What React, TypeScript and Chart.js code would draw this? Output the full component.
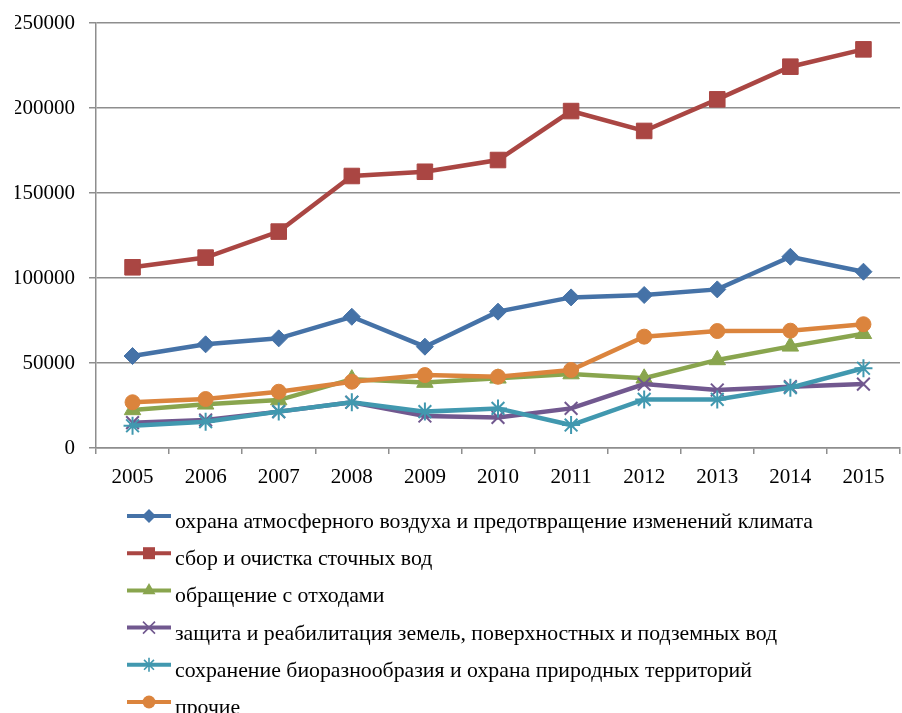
import React, { useEffect, useRef } from 'react';
import { Chart, registerables } from 'chart.js';

Chart.register(...registerables);

const years = ['2005', '2006', '2007', '2008', '2009', '2010', '2011', '2012', '2013', '2014', '2015'];

const seriesNames = [
  'охрана атмосферного воздуха и предотвращение изменений климата',
  'сбор и очистка сточных вод',
  'обращение с отходами',
  'защита и реабилитация земель, поверхностных и подземных вод',
  'сохранение биоразнообразия и охрана природных территорий',
  'прочие',
];

const airValues = [54100, 61000, 64500, 77200, 59600, 80200, 88600, 90000, 93300, 112500, 103700];
const waterValues = [106300, 112000, 127300, 160000, 162500, 169400, 198200, 186500, 205100, 224300, 234500];
const wasteValues = [22400, 25700, 28200, 40500, 38500, 41000, 43500, 41000, 51800, 59800, 67200];
const landValues = [14900, 16500, 21400, 26900, 18800, 18000, 23300, 37600, 34100, 36100, 37600];
const bioValues = [13100, 15500, 21400, 26900, 21400, 23300, 13500, 28600, 28600, 35500, 46900];
const otherValues = [26900, 28800, 33100, 39000, 42900, 41900, 45900, 65500, 68800, 69000, 72800];

const yTicks = [0, 50000, 100000, 150000, 200000, 250000];

const allValues = [airValues, waterValues, wasteValues, landValues, bioValues, otherValues];
const colors = ['#4572A7', '#AA4643', '#89A54E', '#71588F', '#4198AF', '#DB843D'];
const pointStyles = ['rectRot', 'rect', 'triangle', 'crossRot', 'star', 'circle'];
const pointRadii = [8.5, 11, 9.5, 9, 9, 7.5];
const pointBorders = [1, 1, 1, 2, 2, 1];

const FONT = '"Liberation Serif", "Times New Roman", serif';

function drawMarker(ctx: CanvasRenderingContext2D, style: string, x: number, y: number, color: string) {
  ctx.fillStyle = color;
  ctx.strokeStyle = color;
  ctx.beginPath();
  if (style === 'rectRot') {
    const r = 7;
    ctx.moveTo(x, y - r);
    ctx.lineTo(x + r, y);
    ctx.lineTo(x, y + r);
    ctx.lineTo(x - r, y);
    ctx.closePath();
    ctx.fill();
  } else if (style === 'rect') {
    const s = 6;
    ctx.rect(x - s, y - s, 2 * s, 2 * s);
    ctx.fill();
  } else if (style === 'triangle') {
    const r = 7.5;
    ctx.moveTo(x, y - r);
    ctx.lineTo(x + r * 0.866, y + r * 0.5);
    ctx.lineTo(x - r * 0.866, y + r * 0.5);
    ctx.closePath();
    ctx.fill();
  } else if (style === 'crossRot') {
    const r = 6;
    ctx.lineWidth = 1.6;
    ctx.moveTo(x - r, y - r);
    ctx.lineTo(x + r, y + r);
    ctx.moveTo(x + r, y - r);
    ctx.lineTo(x - r, y + r);
    ctx.stroke();
  } else if (style === 'star') {
    const r = 7;
    const d = r * 0.707;
    ctx.lineWidth = 1.6;
    ctx.moveTo(x, y - r);
    ctx.lineTo(x, y + r);
    ctx.moveTo(x - d, y - d);
    ctx.lineTo(x + d, y + d);
    ctx.moveTo(x + d, y - d);
    ctx.lineTo(x - d, y + d);
    ctx.stroke();
  } else {
    ctx.arc(x, y, 6.5, 0, Math.PI * 2);
    ctx.fill();
  }
}

const legendPlugin = {
  id: 'stackedLegend',
  afterDraw(chart: any) {
    const ctx: CanvasRenderingContext2D = chart.ctx;
    ctx.save();
    seriesNames.forEach((name, i) => {
      const y = 516 + i * 37.2;
      ctx.strokeStyle = colors[i];
      ctx.lineWidth = 4;
      ctx.beginPath();
      ctx.moveTo(127, y);
      ctx.lineTo(171, y);
      ctx.stroke();
      drawMarker(ctx, pointStyles[i], 149, y, colors[i]);
      ctx.fillStyle = '#000';
      ctx.font = `21.8px ${FONT}`;
      ctx.textAlign = 'left';
      ctx.textBaseline = 'alphabetic';
      ctx.fillText(name, 175, y + 12);
    });
    ctx.restore();
  },
};

export default function App() {
  const canvasRef = useRef<HTMLCanvasElement | null>(null);

  useEffect(() => {
    if (!canvasRef.current) return;
    const chart = new Chart(canvasRef.current, {
      type: 'line',
      data: {
        labels: years,
        datasets: allValues.map((vals, i) => ({
          label: seriesNames[i],
          data: vals,
          borderColor: colors[i],
          backgroundColor: colors[i],
          borderWidth: 4.5,
          pointStyle: pointStyles[i] as any,
          pointRadius: pointRadii[i],
          pointBackgroundColor: colors[i],
          pointBorderColor: colors[i],
          pointBorderWidth: pointBorders[i],
          tension: 0,
          fill: false,
          order: 5 - i,
          clip: false as any,
        })),
      },
      options: {
        responsive: false,
        maintainAspectRatio: false,
        animation: false,
        devicePixelRatio: 1,
        layout: { padding: { top: 23, left: 15, right: 3, bottom: 205 } },
        plugins: {
          legend: { display: false },
          tooltip: { enabled: false },
          title: { display: false },
        },
        scales: {
          x: {
            type: 'category',
            offset: true,
            grid: {
              offset: true,
              drawOnChartArea: false,
              drawTicks: true,
              tickLength: 6,
              color: '#8E8E8E',
              lineWidth: 1.5,
            },
            border: { display: true, color: '#8E8E8E', width: 1.5 },
            ticks: {
              color: '#000',
              font: { family: FONT, size: 21 },
              padding: 11,
              maxRotation: 0,
              autoSkip: false,
            },
            afterFit: (scale: any) => {
              scale.height = 60;
              scale.paddingLeft = 0;
              scale.paddingRight = 0;
            },
          },
          y: {
            min: 0,
            max: 250000,
            afterBuildTicks: (scale: any) => {
              scale.ticks = yTicks.map((v) => ({ value: v }));
            },
            grid: {
              color: '#8E8E8E',
              lineWidth: 1.5,
              tickLength: 7,
              drawTicks: true,
            },
            border: { display: true, color: '#8E8E8E', width: 1.5 },
            ticks: {
              color: '#000',
              font: { family: FONT, size: 21 },
              padding: 14,
              callback: (v: any) => String(v),
            },
            afterFit: (scale: any) => {
              scale.width = 81;
              scale.paddingTop = 0;
              scale.paddingBottom = 0;
            },
          },
        },
      },
      plugins: [legendPlugin],
    });
    return () => chart.destroy();
  }, []);

  return (
    <div
      style={{
        position: 'fixed',
        left: 0,
        top: 0,
        width: 902,
        height: 713,
        overflow: 'hidden',
        background: '#fff',
      }}
    >
      <canvas ref={canvasRef} width={912} height={713} style={{ width: 912, height: 713, display: 'block' }} />
    </div>
  );
}
